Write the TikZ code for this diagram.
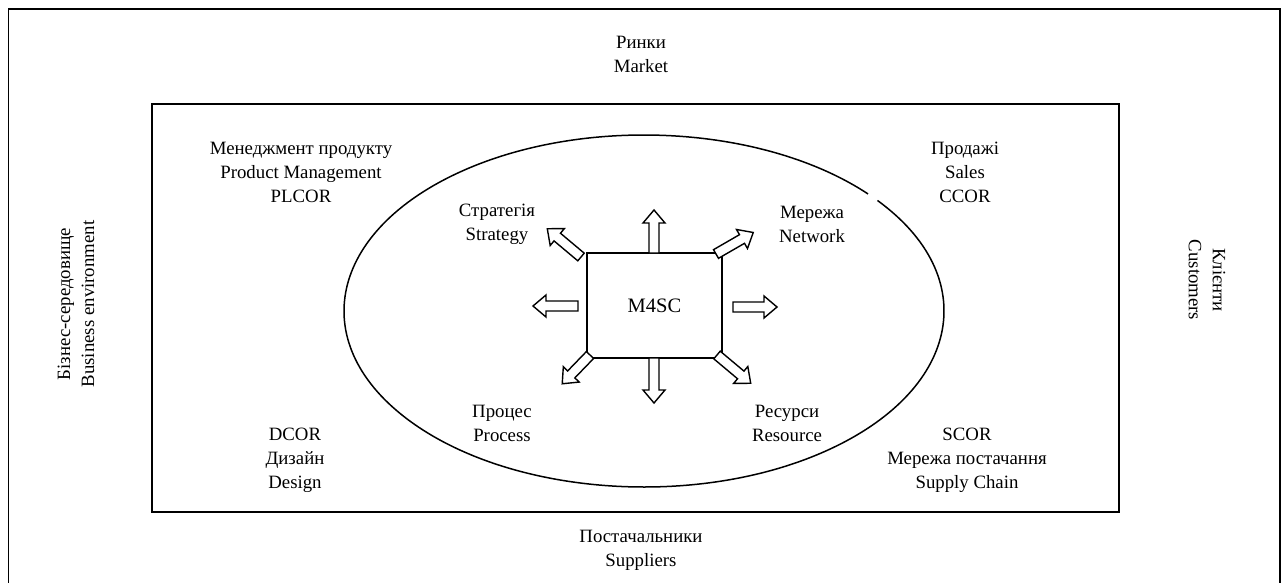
\documentclass[tikz,border=0pt]{standalone}
\usepackage{fontspec}
\setmainfont{Liberation Serif}
\tikzset{
  lbl/.style={font=\fontsize{18.8}{24}\selectfont, align=center, inner sep=0pt},
  frame/.style={draw=black, line width=1.5pt},
  barrow/.style={draw=black, fill=white, line width=1.4pt, line join=miter},
}
\newcommand\blockarrow[4]{%
  \draw[barrow,shift={(#1,#2)},rotate=#3] (0,-5) -- (#4-13,-5) -- (#4-13,-11) -- (#4,0) -- (#4-13,11) -- (#4-13,5) -- (0,5) -- cycle;}
\begin{document}
\begin{tikzpicture}[x=1pt,y=-1pt]
\useasboundingbox (0,0) rectangle (1282,583);
\fill[white] (0,0) rectangle (1282,583);
% outer frame
\draw[frame] (8.5,9) rectangle (1280,590);
% inner frame
\draw[frame] (152,104) rectangle (1119,512);
% ellipse with small gap upper right
\draw[frame] ([shift={(-38.9:300 and 176)}]644,311) arc[start angle=-38.9, end angle=318.3, x radius=300, y radius=176];
% central box
\node[draw=black, line width=1.5pt, minimum width=135pt, minimum height=105pt, inner sep=0pt,
      font=\fontsize{20.5}{24}\selectfont] (m4sc) at (654.5,305.5) {M4SC};
% block arrows
\blockarrow{654}{253}{90}{43}
\blockarrow{654}{358}{-90}{45}
\blockarrow{578}{306}{180}{45}
\blockarrow{733}{307}{0}{44}
\blockarrow{581}{257}{140}{44}
\blockarrow{716}{254}{30}{43}
\blockarrow{717}{355}{-40}{44}
\blockarrow{590}{355}{226}{40}
% labels
\node[lbl] (market) at (641,54) {Ринки\\Market};
\node[lbl] (pm) at (301,172) {Менеджмент продукту\\Product Management\\PLCOR};
\node[lbl] (sales) at (965,172) {Продажі\\Sales\\CCOR};
\node[lbl] (strategy) at (497,224) {Стратегія\\Strategy};
\node[lbl] (network) at (812,224) {Мережа\\Network};
\node[lbl] (process) at (502,423) {Процес\\Process};
\node[lbl] (resource) at (787,423) {Ресурси\\Resource};
\node[lbl] (design) at (295,460) {DCOR\\Дизайн\\Design};
\node[lbl] (supply) at (967,460) {SCOR\\Мережа постачання\\Supply Chain};
\node[lbl] (suppliers) at (641,550) {Постачальники\\Suppliers};
\node[lbl, rotate=90] (business) at (76,304) {Бізнес-середовище\\Business environment};
\node[lbl, rotate=-90] (customers) at (1207,280) {Клієнти\\Customers};
\end{tikzpicture}
\end{document}
